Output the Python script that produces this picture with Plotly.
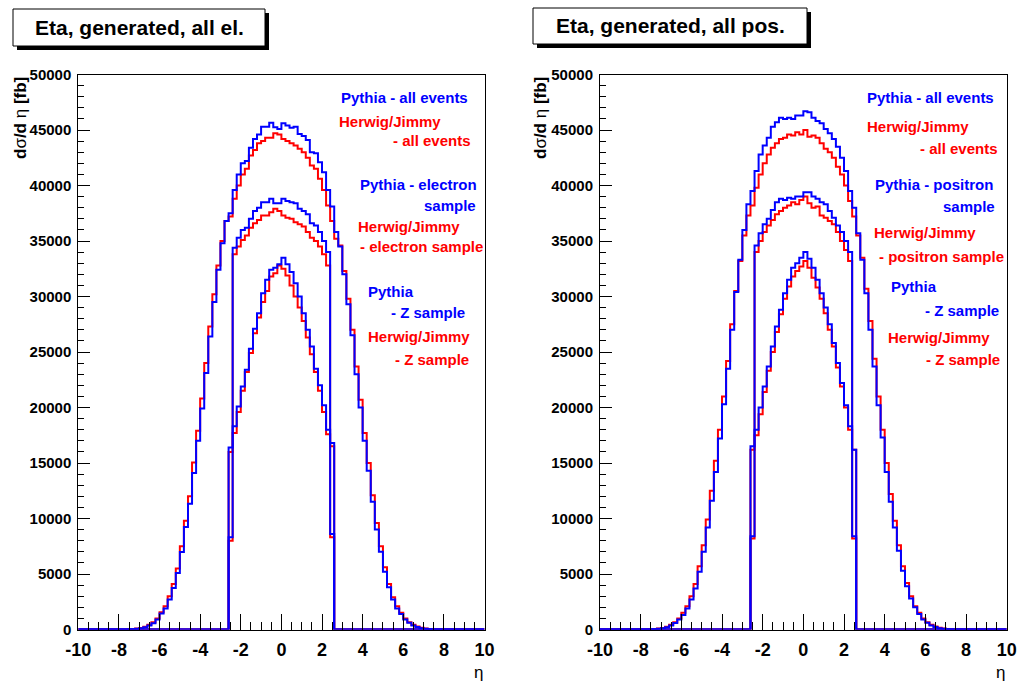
import plotly.graph_objects as go
import numpy as np

W, H = 1022, 684
NBINS = 100
edges = np.round(np.linspace(-10, 10, NBINS + 1), 3)

x_tick_vals = [-10, -8, -6, -4, -2, 0, 2, 4, 6, 8, 10]
x_tick_text = ["-10", "-8", "-6", "-4", "-2", "0", "2", "4", "6", "8", "10"]
y_tick_vals = [0, 5000, 10000, 15000, 20000, 25000, 30000, 35000, 40000, 45000, 50000]
y_tick_text = [str(v) for v in y_tick_vals]

titles = ["Eta, generated, all el.", "Eta, generated, all pos."]

# ---- left panel (electrons): values per bin, first bin left edge given ----
L_pythia_all_start = -7.6
L_pythia_all = [10, 30, 60, 110, 200, 360, 570, 900, 1440, 1890, 2700, 3750, 5100, 6990, 9240, 11330,
                14100, 17000, 19900, 23100, 26400, 29500, 32400, 34800, 36800, 37500,
                39600, 41000, 42000, 42200, 43400, 44200, 44600, 45300, 45300, 45650, 45250, 45100,
                45600, 45400, 45200, 45300, 44650, 44450, 44100, 43000, 42900, 42100, 41200, 39600,
                38100, 35800, 34500, 32000, 29300, 26500, 23000, 20000, 17000, 14300, 11500, 9000,
                7000, 5200, 3800, 2700, 1900, 1400, 900, 600, 370, 220, 120, 60, 30, 10]
L_herwig_all_start = -7.8
L_herwig_all = [10, 20, 40, 80, 140, 250, 420, 650, 1000, 1550, 2100, 3000, 4100, 5500, 7500, 9800, 12000,
                15050, 17900, 20800, 24000, 27300, 30200, 32800, 35000, 36800, 37200,
                38800, 40000, 41000, 41500, 42700, 43200, 43800, 44000, 44300, 44300, 44700, 44600,
                44200, 44000, 43800, 43600, 43300, 43000, 42500, 41800, 41500, 40600, 39600,
                38200, 36800, 35200, 34600, 32300, 29800, 27000, 23700, 20700, 17700, 15000, 12100,
                9600, 7500, 5600, 4100, 2900, 2100, 1500, 1000, 650, 420, 260, 150, 80, 40, 20, 10]
L_pythia_el_start = -2.6
L_pythia_el = [16400, 34400, 35300, 36000, 36200, 37000, 37700, 38000, 38500, 38500, 38800, 38400, 38400,
               38800, 38600, 38500, 38400, 37900, 37700, 37400, 36600, 36400, 35800, 35000, 34000, 16800]
L_herwig_el_start = -2.6
L_herwig_el = [16000, 33800, 34500, 35100, 35500, 36200, 36600, 36900, 37300, 37300, 37600, 37900, 37700,
               37300, 37100, 37000, 36700, 36500, 36300, 35800, 35300, 35000, 34500, 33800, 32800, 16500]
L_pythia_z_start = -2.6
L_pythia_z = [8300, 18300, 20100, 21900, 23400, 25300, 27100, 28500, 30300, 31500, 32400, 32600, 32900,
              33500, 32900, 32200, 31200, 30000, 28500, 27000, 25500, 23500, 22000, 20200, 18000, 8600]
L_herwig_z_start = -2.6
L_herwig_z = [8000, 17700, 19600, 21500, 23200, 24900, 26700, 28100, 29500, 30500, 31800, 32100, 32800,
              32500, 31900, 31000, 30000, 29000, 27800, 26300, 24800, 23200, 21500, 19600, 17600, 8300]

# ---- right panel (positrons) ----
R_pythia_all_start = -7.6
R_pythia_all = [10, 30, 60, 110, 200, 350, 580, 900, 1300, 1900, 2700, 3700, 5200, 7000, 9200, 11600,
                14200, 17200, 20300, 23500, 27000, 30400, 33300, 36000, 38300, 39500,
                41300, 42800, 43600, 44300, 45300, 45700, 46100, 46000, 46100, 46000, 46300, 46300,
                46700, 46600, 46100, 45800, 45600, 45100, 44700, 44200, 43500, 42500, 41300, 39500,
                38000, 35700, 33300, 30300, 27000, 23700, 20200, 17300, 14200, 11500, 9200, 7100,
                5300, 3900, 2800, 2000, 1400, 900, 600, 370, 220, 120, 60, 30, 10]
R_herwig_all_start = -7.8
R_herwig_all = [10, 20, 40, 80, 140, 250, 420, 650, 1000, 1500, 2100, 3000, 4100, 5700, 7600, 9900, 12500,
                15200, 18000, 21000, 24200, 27500, 30500, 33200, 35500, 37300, 38200,
                39800, 41000, 42000, 42800, 43400, 43800, 44200, 44300, 44600, 44500, 44800, 44600,
                45000, 44400, 44500, 44300, 43800, 43300, 43000, 42500, 41700, 41000, 40000,
                38600, 37200, 35500, 33500, 30700, 27800, 24400, 21000, 18000, 15000, 12200, 9800,
                7600, 5700, 4200, 3000, 2100, 1500, 1000, 650, 420, 260, 150, 80, 40, 20, 10]
R_pythia_pos_start = -2.6
R_pythia_pos = [16500, 34600, 35700, 36500, 37000, 37800, 38500, 38800, 38700, 38900, 38800, 39000, 39000,
                39400, 39400, 39000, 38800, 38500, 38300, 37700, 37100, 36400, 35800, 35000, 34000, 16200]
R_herwig_pos_start = -2.6
R_herwig_pos = [16200, 34000, 35000, 35800, 36400, 36900, 37400, 37700, 38000, 38200, 38500, 38300, 38700,
                39000, 38400, 38000, 38100, 37300, 37100, 36800, 36500, 35800, 35000, 34200, 33200, 16200]
R_pythia_z_start = -2.6
R_pythia_z = [8400, 18000, 20000, 21900, 23700, 25500, 27300, 28800, 30300, 31500, 32600, 33000, 33500,
              34000, 33400, 32600, 31500, 30300, 29000, 27500, 25800, 24000, 22200, 20200, 18300, 8400]
R_herwig_z_start = -2.6
R_herwig_z = [8200, 17500, 19400, 21400, 23300, 25000, 26800, 28400, 29800, 30900, 31800, 32300, 32700,
              33200, 32600, 31700, 30800, 29800, 28500, 27000, 25500, 23600, 21900, 20000, 18000, 8200]

L_labels = [("Pythia - all events", "blue", 339, 97), ("Herwig/Jimmy", "red", 337, 121),
            ("- all events", "red", 391, 141), ("Pythia - electron", "blue", 358, 184),
            ("sample", "blue", 422, 205), ("Herwig/Jimmy", "red", 356, 226),
            ("- electron sample", "red", 358, 246), ("Pythia", "blue", 366, 291),
            ("- Z sample", "blue", 389, 312), ("Herwig/Jimmy", "red", 366, 336),
            ("- Z sample", "red", 393, 359)]
R_labels = [("Pythia - all events", "blue", 865, 97), ("Herwig/Jimmy", "red", 865, 127),
            ("- all events", "red", 918, 149), ("Pythia - positron", "blue", 873, 184),
            ("sample", "blue", 941, 207), ("Herwig/Jimmy", "red", 872, 232),
            ("- positron sample", "red", 877, 256), ("Pythia", "blue", 889, 287),
            ("- Z sample", "blue", 923, 310), ("Herwig/Jimmy", "red", 886, 337),
            ("- Z sample", "red", 924, 359)]


def to_bins(start, vals):
    out = np.zeros(NBINS)
    i0 = int(round((start + 10) / 0.2))
    out[i0:i0 + len(vals)] = vals
    return out


def px(x):
    return x / W


def py(y):
    return 1 - y / H


FONT = "Liberation Sans, Arial, Helvetica, sans-serif"
fig = go.Figure()

panels = [
    ("x", "y", [(L_herwig_all_start, L_herwig_all, "red"), (L_herwig_el_start, L_herwig_el, "red"),
                (L_herwig_z_start, L_herwig_z, "red"), (L_pythia_all_start, L_pythia_all, "blue"),
                (L_pythia_el_start, L_pythia_el, "blue"), (L_pythia_z_start, L_pythia_z, "blue")]),
    ("x2", "y2", [(R_herwig_all_start, R_herwig_all, "red"), (R_herwig_pos_start, R_herwig_pos, "red"),
                  (R_herwig_z_start, R_herwig_z, "red"), (R_pythia_all_start, R_pythia_all, "blue"),
                  (R_pythia_pos_start, R_pythia_pos, "blue"), (R_pythia_z_start, R_pythia_z, "blue")]),
]
for xa, ya, series in panels:
    for start, vals, col in series:
        b = to_bins(start, vals)
        fig.add_trace(go.Scatter(x=edges, y=np.append(b, b[-1]), mode="lines",
                                 line=dict(color=col, width=2, shape="hv"),
                                 xaxis=xa, yaxis=ya, showlegend=False, hoverinfo="skip"))

top, bot = 74.5, 629.5
xdoms = [(78.3, 484.5), (600.0, 1006.7)]
axcommon = dict(showline=True, linecolor="black", linewidth=1, mirror=True, showgrid=False,
                zeroline=False, ticks="inside", tickcolor="black", tickwidth=1, automargin=False)
layout = dict(width=W, height=H, margin=dict(l=0, r=0, t=0, b=0, autoexpand=False),
              paper_bgcolor="white", plot_bgcolor="white", showlegend=False)
for k, (x0, x1) in enumerate(xdoms):
    sx = "" if k == 0 else "2"
    layout["xaxis" + sx] = dict(domain=[px(x0), px(x1)], range=[-10, 10], anchor="y" + sx,
                                tickvals=x_tick_vals, ticktext=x_tick_text, ticklen=16,
                                ticklabelstandoff=4,
                                tickfont=dict(family=FONT, size=18, color="black", weight="bold"),
                                minor=dict(dtick=0.5, ticklen=8, ticks="inside", tickcolor="black"),
                                **axcommon)
    layout["yaxis" + sx] = dict(domain=[py(bot), py(top)], range=[0, 50000], anchor="x" + sx,
                                tickvals=y_tick_vals, ticktext=y_tick_text, ticklen=12,
                                ticklabelstandoff=3,
                                tickfont=dict(family=FONT, size=15, color="black", weight="bold"),
                                minor=dict(dtick=1000, ticklen=6, ticks="inside", tickcolor="black"),
                                **axcommon)
fig.update_layout(**layout)

shapes = []
annotations = []
boxes = [(13, 9, 265, 46), (533, 8, 807, 44)]
for (x0, y0, x1, y1), t in zip(boxes, titles):
    shapes.append(dict(type="rect", xref="paper", yref="paper", x0=px(x0 + 4), x1=px(x1 + 4),
                       y0=py(y1 + 4), y1=py(y0 + 4), fillcolor="black", line=dict(width=0)))
    shapes.append(dict(type="rect", xref="paper", yref="paper", x0=px(x0), x1=px(x1),
                       y0=py(y1), y1=py(y0), fillcolor="white", line=dict(color="black", width=1)))
    annotations.append(dict(text="<b>%s</b>" % t, x=px((x0 + x1) / 2), y=py((y0 + y1) / 2),
                            xref="paper", yref="paper", showarrow=False, xanchor="center",
                            yanchor="middle", font=dict(family=FONT, size=21, color="black")))

for xc in (20, 540):
    annotations.append(dict(text="<b>d</b>σ<b>/d</b> η <b>[fb]</b>", x=px(xc), y=py(118), xref="paper",
                            yref="paper", showarrow=False, textangle=-90, xanchor="center",
                            yanchor="middle", font=dict(family=FONT, size=17, color="black")))
for xc in (478, 1000):
    annotations.append(dict(text="η", x=px(xc), y=py(672), xref="paper", yref="paper",
                            showarrow=False, xanchor="center", yanchor="middle",
                            font=dict(family=FONT, size=17, color="black")))

for labels in (L_labels, R_labels):
    for t, col, x, y in labels:
        annotations.append(dict(text="<b>%s</b>" % t, x=px(x), y=py(y), xref="paper", yref="paper",
                                showarrow=False, xanchor="left", yanchor="middle",
                                font=dict(family=FONT, size=15, color=col)))

fig.update_layout(shapes=shapes, annotations=annotations)
fig.write_html("out.html")
